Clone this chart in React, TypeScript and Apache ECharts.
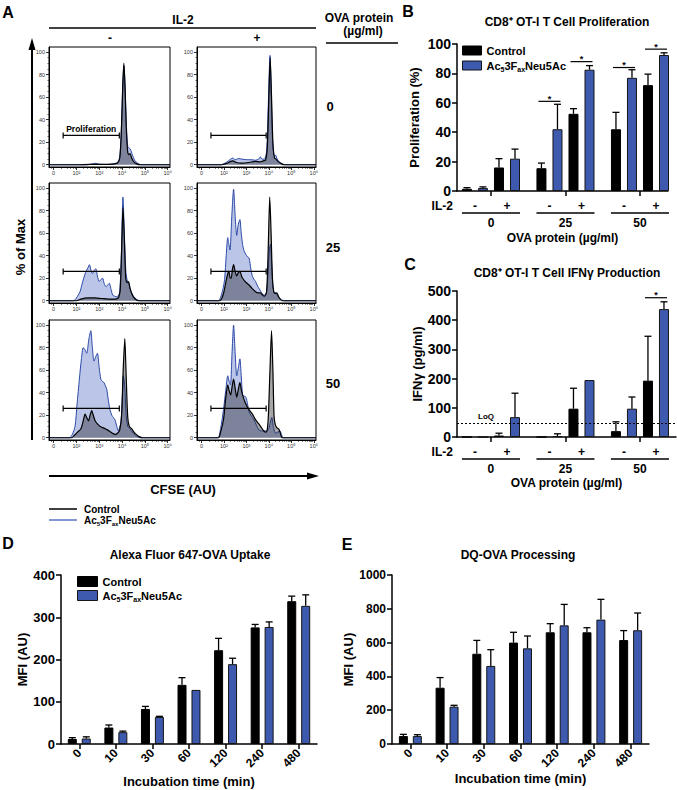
import React, { useEffect, useRef } from 'react';
import * as echarts from 'echarts';

const FONT = '"Liberation Sans", Arial, Helvetica, sans-serif';
const BLUE = '#3d5aae';
const CONTROL = 'Control';
const AC = 'Ac53FaxNeu5Ac';
const AC_RICH = '{a|Ac}{s|5}{a|3F}{s|ax}{a|Neu5Ac}';

// ---------- Panel A (CFSE histograms) ----------
const cfseTickLabels = ['0', '10²', '10³', '10⁴', '10⁵', '10⁶'];
const cfseTicks = [0, 1, 2, 3, 4, 5];
const pctTicks = [0, 20, 40, 60, 80, 100];
const pctMinor = [5, 10, 15, 25, 30, 35, 45, 50, 55, 65, 70, 75, 85, 90, 95];
const ovaRowLabels = ['0', '25', '50'];
const il2ColLabels = ['-', '+'];
const gateFrom = 0.42;
const gateTo = 2.88;
const gateLevel = 26;

// OVA 0, IL-2 -
const histCtrl0Minus = [[-0.2,0],[1.0,0],[1.6,0.3],[2.2,0.3],[2.6,0.6],[2.8,1.5],[2.9,6],[2.97,30],[3.03,70],[3.08,90],[3.13,70],[3.19,30],[3.25,11],[3.3,9],[3.35,10],[3.42,6],[3.5,3],[3.62,1],[3.8,0],[5.1,0]];
const histAc0Minus = [[-0.2,0],[1.5,0],[1.7,0.8],[1.85,1.3],[2.0,0.5],[2.3,0.3],[2.6,0.8],[2.8,2],[2.9,7],[2.97,32],[3.03,70],[3.08,88],[3.13,70],[3.19,35],[3.25,16],[3.3,15],[3.36,14],[3.45,9],[3.55,4],[3.7,1],[3.85,0],[5.1,0]];
// OVA 0, IL-2 +
const histCtrl0Plus = [[-0.2,0],[0.9,0],[1.1,1],[1.3,3],[1.4,3.5],[1.55,2],[1.8,1.5],[2.1,2],[2.4,3],[2.6,2.5],[2.75,3.5],[2.85,4],[2.93,15],[3.0,60],[3.06,95],[3.12,60],[3.18,20],[3.25,6],[3.32,5],[3.4,3],[3.55,1],[3.7,0],[5.1,0]];
const histAc0Plus = [[-0.2,0],[0.85,0],[1.1,2],[1.3,5],[1.4,6],[1.5,4.5],[1.65,5.5],[1.8,5],[2.0,4.5],[2.2,4.5],[2.4,4],[2.55,5],[2.62,7],[2.7,5],[2.8,5],[2.9,12],[2.97,50],[3.05,97],[3.11,60],[3.17,20],[3.24,8],[3.3,8.5],[3.37,5],[3.5,2],[3.7,0],[5.1,0]];
// OVA 25, IL-2 -
const histCtrl25Minus = [[-0.2,0],[1.0,0],[1.2,1.5],[1.5,2.5],[1.8,2.5],[2.1,2],[2.4,1.5],[2.7,1.5],[2.85,3],[2.92,10],[2.98,45],[3.04,83],[3.1,55],[3.16,20],[3.22,16],[3.28,17],[3.35,11],[3.45,5],[3.55,2],[3.7,0],[5.1,0]];
const histAc25Minus = [[-0.2,0],[0.85,0],[0.95,1],[1.05,4],[1.16,8],[1.25,15],[1.4,25],[1.5,29],[1.57,32],[1.64,27],[1.7,24],[1.78,27],[1.85,28.5],[1.92,22],[2.0,17],[2.08,19],[2.15,20],[2.22,15],[2.3,12.5],[2.37,14],[2.44,15.5],[2.52,10],[2.59,5],[2.68,4],[2.77,3.6],[2.85,5],[2.9,8],[2.97,40],[3.04,92],[3.1,60],[3.17,25],[3.24,17],[3.3,15],[3.38,9],[3.5,4],[3.65,1],[3.8,0],[5.1,0]];
// OVA 25, IL-2 +
const histCtrl25Plus = [[-0.2,0],[0.8,0],[0.9,2],[1.0,8],[1.1,18],[1.17,24],[1.22,26],[1.28,20],[1.32,20],[1.38,28],[1.43,32],[1.5,26],[1.57,22],[1.64,25],[1.71,26],[1.8,21],[1.9,18],[2.0,16],[2.12,14],[2.25,11],[2.41,8],[2.52,7],[2.63,7],[2.72,5],[2.8,4],[2.9,8],[2.97,45],[3.04,92],[3.1,60],[3.16,20],[3.22,8],[3.28,6.5],[3.35,7],[3.45,3],[3.6,0],[5.1,0]];
const histAc25Plus = [[-0.2,0],[0.75,0],[0.85,3],[0.95,10],[1.03,19],[1.1,40],[1.17,56],[1.22,50],[1.27,45],[1.35,75],[1.43,99],[1.5,75],[1.57,58],[1.64,68],[1.71,72],[1.77,60],[1.83,50],[1.9,44],[1.98,41],[2.05,39],[2.12,38],[2.2,28],[2.27,21.5],[2.34,19],[2.41,17],[2.5,13],[2.56,11],[2.65,8],[2.78,5],[2.88,6],[2.95,20],[3.02,45],[3.07,50],[3.12,35],[3.18,12],[3.25,7],[3.3,7],[3.4,4],[3.55,1],[3.7,0],[5.1,0]];
// OVA 50, IL-2 -
const histCtrl50Minus = [[-0.2,0],[0.8,0],[0.9,2],[1.05,5],[1.2,8],[1.3,15],[1.38,21],[1.45,18],[1.53,15],[1.6,20],[1.67,24],[1.74,20],[1.82,15],[1.93,12],[2.04,10],[2.15,9],[2.26,8],[2.36,7],[2.47,5.5],[2.58,4],[2.69,3],[2.8,4],[2.9,7],[2.98,20],[3.05,60],[3.12,88],[3.18,55],[3.25,18],[3.32,10],[3.42,8],[3.52,5],[3.62,3],[3.75,1],[3.9,0],[5.1,0]];
const histAc50Minus = [[-0.2,0],[0.7,0],[0.82,3],[0.94,10],[1.03,30],[1.13,52],[1.22,70],[1.3,80],[1.38,78],[1.45,75],[1.55,88],[1.63,95],[1.7,80],[1.77,68],[1.85,72],[1.92,75],[2.0,62],[2.07,52],[2.14,50],[2.21,49],[2.27,46],[2.33,43],[2.4,33],[2.47,25],[2.55,20],[2.62,18],[2.69,16],[2.77,10],[2.84,6],[2.9,10],[2.95,13],[3.0,30],[3.06,55],[3.12,45],[3.18,20],[3.25,10],[3.35,8],[3.45,5],[3.6,2],[3.8,0],[5.1,0]];
// OVA 50, IL-2 +
const histCtrl50Plus = [[-0.2,0],[0.75,0],[0.85,5],[0.98,16],[1.08,35],[1.17,47],[1.23,42],[1.3,38],[1.36,45],[1.43,52],[1.5,44],[1.57,36],[1.64,43],[1.71,49],[1.78,42],[1.86,36],[1.95,31],[2.05,27],[2.15,24],[2.27,21],[2.38,17],[2.48,14],[2.6,11],[2.7,8],[2.78,6],[2.85,5],[2.92,6],[2.98,20],[3.05,60],[3.12,95],[3.18,60],[3.23,20],[3.28,12],[3.35,9],[3.43,8],[3.5,5],[3.6,0],[5.1,0]];
const histAc50Plus = [[-0.2,0],[0.72,0],[0.85,8],[0.98,25],[1.08,42],[1.17,55],[1.23,50],[1.29,47],[1.36,75],[1.43,100],[1.5,75],[1.57,55],[1.64,62],[1.71,70],[1.77,55],[1.83,38],[1.9,37],[1.98,36],[2.05,30],[2.12,23],[2.2,20],[2.34,16],[2.45,11],[2.56,7],[2.68,6],[2.78,6],[2.88,6],[2.93,7],[3.0,8],[3.07,14],[3.13,18],[3.2,10],[3.3,4],[3.4,5],[3.5,6],[3.56,3],[3.65,0],[5.1,0]];

// ---------- Panel B (proliferation) ----------
const ovaGroups = ['0', '25', '50'];
const il2Levels = ['-', '+'];
const profControl = [1.5, 16, 15.5, 52.5, 42, 72];
const profControlErr = [0.8, 6, 3.5, 3.5, 11.5, 7.5];
const profAc = [2, 22, 42, 82.5, 77, 92.5];
const profAcErr = [0.8, 6.5, 17, 2.8, 5.5, 1.5];
const profSigCond = [2, 3, 4, 5];
const profSigY = [61, 88, 84, 96.5];

// ---------- Panel C (IFN-gamma) ----------
const ifnControl = [0, 5, 0, 97, 20, 193];
const ifnControlErr = [0, 8, 0, 70, 32, 152];
const ifnAc = [0, 68, 3, 195, 97, 438];
const ifnAcErr = [0, 82, 8, 0, 40, 25];
const ifnSigCond = [5];
const ifnSigY = [477];
const ifnLoQ = 47;

// ---------- Panels D, E ----------
const times = ['0', '10', '30', '60', '120', '240', '480'];
const uptakeControl = [12, 39, 83, 140, 222, 276, 338];
const uptakeControlErr = [3, 6, 6, 17, 28, 7, 12];
const uptakeAc = [13, 28, 64, 128, 189, 277, 327];
const uptakeAcErr = [4, 2.5, 1.5, 0, 14, 12, 26];
const procControl = [47, 333, 534, 600, 661, 661, 615];
const procControlErr = [10, 60, 79, 61, 51, 27, 56];
const procAc = [47, 221, 462, 566, 702, 736, 673];
const procAcErr = [8, 8, 96, 73, 124, 120, 102];

// layout helpers
const SLOT = [-0.3225, -0.1075, 0.1075, 0.3225];
const condPos = (cond: number, s: number) => Math.floor(cond / 2) + SLOT[(cond % 2) * 2 + s];

const cfseMinor: number[] = [-0.1, 0.35, 0.6, 0.75, 0.86, 0.94];
for (let k = 1; k <= 4; k++) for (let m = 2; m <= 9; m++) cfseMinor.push(k + Math.log10(m));

const richLeg = (size: number) => ({
  a: { fontSize: size, fontWeight: 'bold', fontFamily: FONT, color: '#000', lineHeight: size + 3 },
  s: { fontSize: Math.round(size * 0.62), fontWeight: 'bold', fontFamily: FONT, color: '#000', lineHeight: Math.round(size * 0.62), verticalAlign: 'bottom' },
});

const T = (x: number, y: number, text: string, size: number, align = 'center', extra: any = {}) => ({
  type: 'text', x, y, silent: true,
  style: { text, font: `bold ${size}px ${FONT}`, fill: '#000', align, verticalAlign: 'middle', textAlign: align, textVerticalAlign: 'middle', ...extra },
});
const L = (x1: number, y1: number, x2: number, y2: number, w = 1.3, color = '#000') => ({
  type: 'line', silent: true, shape: { x1, y1, x2, y2 }, style: { stroke: color, lineWidth: w },
});

function buildOption() {
  const histCols = [{ left: 49, width: 121 }, { left: 197, width: 119 }];
  const histRows = [47, 183, 320];
  const histPanels = [
    { ctrl: histCtrl0Minus, ac: histAc0Minus },
    { ctrl: histCtrl0Plus, ac: histAc0Plus },
    { ctrl: histCtrl25Minus, ac: histAc25Minus },
    { ctrl: histCtrl25Plus, ac: histAc25Plus },
    { ctrl: histCtrl50Minus, ac: histAc50Minus },
    { ctrl: histCtrl50Plus, ac: histAc50Plus },
  ];

  const grid: any[] = [];
  const xAxis: any[] = [];
  const yAxis: any[] = [];
  const series: any[] = [];

  histPanels.forEach((_, i) => {
    const col = histCols[i % 2];
    grid.push({ left: col.left, top: histRows[Math.floor(i / 2)], width: col.width, height: 120, show: true, borderColor: '#000', borderWidth: 1, containLabel: false });
    xAxis.push({
      type: 'value', gridIndex: i, min: -0.2, max: 5.1, position: 'bottom',
      axisLine: { show: true, onZero: false, lineStyle: { color: '#000', width: 1 } },
      axisTick: { show: true, customValues: cfseTicks, length: 3, lineStyle: { color: '#000', width: 0.8 } },
      axisLabel: { show: true, customValues: cfseTicks, formatter: (v: number) => cfseTickLabels[Math.round(v)], fontSize: 5.5, color: '#333', margin: 3, fontFamily: FONT },
      splitLine: { show: false },
    });
    xAxis.push({
      type: 'value', gridIndex: i, min: -0.2, max: 5.1, position: 'bottom',
      axisLine: { show: false, onZero: false },
      axisTick: { show: true, customValues: cfseMinor, length: 1.8, lineStyle: { color: '#000', width: 0.6 } },
      axisLabel: { show: false }, splitLine: { show: false },
    });
    yAxis.push({
      type: 'value', gridIndex: i, min: -2, max: 104.5, position: 'left',
      axisLine: { show: true, onZero: false, lineStyle: { color: '#000', width: 1 } },
      axisTick: { show: true, customValues: pctTicks, length: 3, lineStyle: { color: '#000', width: 0.8 } },
      axisLabel: { show: true, customValues: pctTicks, fontSize: 5.5, color: '#333', margin: 4, fontFamily: FONT },
      splitLine: { show: false },
    });
    yAxis.push({
      type: 'value', gridIndex: i, min: -2, max: 104.5, position: 'left',
      axisLine: { show: false, onZero: false },
      axisTick: { show: true, customValues: pctMinor, length: 1.6, lineStyle: { color: '#000', width: 0.5 } },
      axisLabel: { show: false }, splitLine: { show: false },
    });
  });

  // B, C, D, E grids
  grid.push({ left: 457, top: 44, width: 211, height: 147 });   // 6
  grid.push({ left: 457, top: 291, width: 219, height: 146 });  // 7
  grid.push({ left: 61, top: 575, width: 256, height: 169 });   // 8
  grid.push({ left: 392, top: 575, width: 257, height: 169 });  // 9

  const axLine = { show: true, onZero: false, lineStyle: { color: '#000', width: 1.5 } };
  const axTick = { show: true, length: 5, lineStyle: { color: '#000', width: 1.5 } };
  const lblStyle = (size: number) => ({ fontSize: size, fontWeight: 'bold', color: '#000', fontFamily: FONT });

  const ovaX = (gi: number, max: number, nameGap: number) => ({
    type: 'value', gridIndex: gi, min: -0.456, max, position: 'bottom',
    axisLine: axLine, axisTick: { ...axTick, customValues: [0, 1, 2] }, axisLabel: { show: false }, splitLine: { show: false },
    name: 'OVA protein (µg/ml)', nameLocation: 'middle', nameGap, nameTextStyle: lblStyle(12),
  });
  xAxis.push(ovaX(6, 2.376, 41)); // 12
  xAxis.push(ovaX(7, 2.484, 40)); // 13
  const timeX = (gi: number, nameGap: number) => ({
    type: 'category', gridIndex: gi, data: times, position: 'bottom',
    axisLine: axLine, axisTick: { ...axTick, alignWithLabel: true }, axisLabel: { ...lblStyle(12), rotate: 45, margin: 7, interval: 0 },
    name: 'Incubation time (min)', nameLocation: 'middle', nameGap, nameTextStyle: lblStyle(13),
  });
  xAxis.push(timeX(8, 31)); // 14
  xAxis.push(timeX(9, 27)); // 15

  const stdY = (gi: number, max: number, interval: number, name: string, nameGap: number, size: number) => ({
    type: 'value', gridIndex: gi, min: 0, max, interval, position: 'left',
    axisLine: axLine, axisTick: axTick, axisLabel: { ...lblStyle(size), margin: 6, formatter: (v: number) => String(v) }, splitLine: { show: false },
    name, nameLocation: 'middle', nameGap, nameTextStyle: lblStyle(13),
  });
  yAxis.push(stdY(6, 100, 20, 'Proliferation (%)', 36, 14)); // 12
  yAxis.push(stdY(7, 500, 100, 'IFNγ (pg/ml)', 28, 14)); // 13
  yAxis.push(stdY(8, 400, 100, 'MFI (AU)', 25, 13)); // 14
  yAxis.push(stdY(9, 1000, 200, 'MFI (AU)', 25, 12)); // 15

  const ctrlStyle = { color: '#000', borderColor: '#000', borderWidth: 1 };
  const acStyle = { color: BLUE, borderColor: '#151515', borderWidth: 1 };

  const errSeries = (ax: number, data: number[][], dx: number, cap: number) => ({
    type: 'custom', name: 'err', xAxisIndex: ax, yAxisIndex: ax, data, z: 5, silent: true,
    encode: { x: 0, y: 1 },
    renderItem: (_p: any, api: any) => {
      const x = api.value(0), top = api.value(1), e = api.value(2);
      if (!e) return { type: 'group', children: [] };
      const p0 = api.coord([x, top]);
      const p1 = api.coord([x, top + e]);
      const cx = p0[0] + dx;
      return {
        type: 'group', children: [
          { type: 'line', shape: { x1: cx, y1: p0[1], x2: cx, y2: p1[1] }, style: { stroke: '#000', lineWidth: 1.3 } },
          { type: 'line', shape: { x1: cx - cap, y1: p1[1], x2: cx + cap, y2: p1[1] }, style: { stroke: '#000', lineWidth: 1.3 } },
        ],
      };
    },
  });

  const sigSeries = (ax: number, conds: number[], ys: number[]) => ({
    type: 'custom', name: 'sig', xAxisIndex: ax, yAxisIndex: ax, silent: true, z: 6,
    data: conds.map((c, k) => [condPos(c, 0), condPos(c, 1), ys[k]]),
    encode: { x: [0, 1], y: 2 },
    renderItem: (_p: any, api: any) => {
      const a = api.coord([api.value(0), api.value(2)]);
      const b = api.coord([api.value(1), api.value(2)]);
      return {
        type: 'group', children: [
          { type: 'line', shape: { x1: a[0] - 3, y1: a[1], x2: b[0] + 3, y2: b[1] }, style: { stroke: '#000', lineWidth: 1.2 } },
          { type: 'text', x: (a[0] + b[0]) / 2, y: a[1] + 2, style: { text: '*', font: `bold 9px ${FONT}`, fill: '#000', align: 'center', verticalAlign: 'bottom' } },
        ],
      };
    },
  });

  const groupLabelSeries = (ax: number) => ({
    type: 'custom', name: 'grp', xAxisIndex: ax, yAxisIndex: ax, silent: true,
    data: ovaGroups.map((_, i) => [i, 0]),
    encode: { x: 0, y: 1 },
    renderItem: (p: any, api: any) => {
      const g = api.value(0);
      const idx = p.dataIndex;
      const base = api.coord([g, 0]);
      const xm = api.coord([g - 0.215, 0])[0];
      const xp = api.coord([g + 0.215, 0])[0];
      const xl = api.coord([g + SLOT[0], 0])[0] - 5;
      const xr = api.coord([g + SLOT[3], 0])[0] + 5;
      const st = (text: string, align = 'center') => ({ text, font: `bold 12px ${FONT}`, fill: '#000', align, verticalAlign: 'middle' });
      const children: any[] = [
        { type: 'text', x: xm, y: base[1] + 15, style: st(il2Levels[0]) },
        { type: 'text', x: xp, y: base[1] + 15, style: st(il2Levels[1]) },
        { type: 'line', shape: { x1: xl, y1: base[1] + 22, x2: xr, y2: base[1] + 22 }, style: { stroke: '#000', lineWidth: 1.3 } },
        { type: 'text', x: base[0], y: base[1] + 32, style: st(ovaGroups[idx]) },
      ];
      if (idx === 0) children.push({ type: 'text', x: xl - 9, y: base[1] + 15, style: st('IL-2', 'right') });
      return { type: 'group', children };
    },
  });

  // ---- B ----
  series.push({ type: 'bar', name: CONTROL, xAxisIndex: 12, yAxisIndex: 12, barWidth: 10, barGap: '-100%', itemStyle: ctrlStyle, data: profControl.map((v, i) => [condPos(i, 0), v]) });
  series.push({ type: 'bar', name: AC, xAxisIndex: 12, yAxisIndex: 12, barWidth: 10, barGap: '-100%', itemStyle: acStyle, data: profAc.map((v, i) => [condPos(i, 1), v]) });
  series.push(errSeries(12, profControl.map((v, i) => [condPos(i, 0), v, profControlErr[i]]), 0, 3.5));
  series.push(errSeries(12, profAc.map((v, i) => [condPos(i, 1), v, profAcErr[i]]), 0, 3.5));
  series.push(sigSeries(12, profSigCond, profSigY));
  series.push(groupLabelSeries(12));

  // ---- C ----
  series.push({
    type: 'bar', name: CONTROL, xAxisIndex: 13, yAxisIndex: 13, barWidth: 10, barGap: '-100%', itemStyle: ctrlStyle,
    data: ifnControl.map((v, i) => [condPos(i, 0), v]),
    markLine: { silent: true, symbol: 'none', data: [{ yAxis: ifnLoQ }], lineStyle: { color: '#000', type: [2, 2], width: 1 }, label: { show: false } },
  });
  series.push({ type: 'bar', name: AC, xAxisIndex: 13, yAxisIndex: 13, barWidth: 10, barGap: '-100%', itemStyle: acStyle, data: ifnAc.map((v, i) => [condPos(i, 1), v]) });
  series.push(errSeries(13, ifnControl.map((v, i) => [condPos(i, 0), v, ifnControlErr[i]]), 0, 3.5));
  series.push(errSeries(13, ifnAc.map((v, i) => [condPos(i, 1), v, ifnAcErr[i]]), 0, 3.5));
  series.push(sigSeries(13, ifnSigCond, ifnSigY));
  series.push(groupLabelSeries(13));

  // ---- D ----
  series.push({ type: 'bar', name: CONTROL, xAxisIndex: 14, yAxisIndex: 14, barWidth: 9, barGap: '55%', itemStyle: ctrlStyle, data: uptakeControl });
  series.push({ type: 'bar', name: AC, xAxisIndex: 14, yAxisIndex: 14, barWidth: 9, barGap: '55%', itemStyle: acStyle, data: uptakeAc });
  series.push(errSeries(14, uptakeControl.map((v, i) => [i, v, uptakeControlErr[i]]), -7, 3.5));
  series.push(errSeries(14, uptakeAc.map((v, i) => [i, v, uptakeAcErr[i]]), 7, 3.5));

  // ---- E ----
  series.push({ type: 'bar', name: CONTROL, xAxisIndex: 15, yAxisIndex: 15, barWidth: 9, barGap: '55%', itemStyle: ctrlStyle, data: procControl });
  series.push({ type: 'bar', name: AC, xAxisIndex: 15, yAxisIndex: 15, barWidth: 9, barGap: '55%', itemStyle: acStyle, data: procAc });
  series.push(errSeries(15, procControl.map((v, i) => [i, v, procControlErr[i]]), -7, 3.5));
  series.push(errSeries(15, procAc.map((v, i) => [i, v, procAcErr[i]]), 7, 3.5));

  // ---- A histograms ----
  histPanels.forEach((hp, i) => {
    series.push({
      type: 'line', name: AC, xAxisIndex: 2 * i, yAxisIndex: 2 * i, data: hp.ac, symbol: 'none', showSymbol: false, smooth: 0.25, z: 2,
      lineStyle: { color: '#2c4aa8', width: 1 }, areaStyle: { color: 'rgba(60,90,185,0.5)' },
    });
    series.push({
      type: 'line', name: CONTROL, xAxisIndex: 2 * i, yAxisIndex: 2 * i, data: hp.ctrl, symbol: 'none', showSymbol: false, smooth: 0.25, z: 3,
      lineStyle: { color: '#000', width: 1.2 }, areaStyle: { color: 'rgba(25,25,30,0.55)' },
    });
    series.push({
      type: 'custom', name: 'gate', xAxisIndex: 2 * i, yAxisIndex: 2 * i, silent: true, z: 10,
      data: [[gateFrom, gateTo, gateLevel]], encode: { x: [0, 1], y: 2 },
      renderItem: (_p: any, api: any) => {
        const a = api.coord([api.value(0), api.value(2)]);
        const b = api.coord([api.value(1), api.value(2)]);
        const children: any[] = [
          { type: 'line', shape: { x1: a[0], y1: a[1], x2: b[0], y2: b[1] }, style: { stroke: '#000', lineWidth: 1.2 } },
          { type: 'line', shape: { x1: a[0], y1: a[1] - 3, x2: a[0], y2: a[1] + 3 }, style: { stroke: '#000', lineWidth: 1.2 } },
          { type: 'line', shape: { x1: b[0], y1: b[1] - 3, x2: b[0], y2: b[1] + 3 }, style: { stroke: '#000', lineWidth: 1.2 } },
        ];
        if (i === 0) children.push({ type: 'text', x: (a[0] + b[0]) / 2, y: a[1] - 2, style: { text: 'Proliferation', font: `bold 8.5px ${FONT}`, fill: '#000', align: 'center', verticalAlign: 'bottom' } });
        return { type: 'group', children };
      },
    });
  });

  const legendBase = {
    show: true, orient: 'vertical', icon: 'rect', selectedMode: false, padding: 0,
    formatter: (n: string) => (n === AC ? AC_RICH : `{a|${n}}`),
    data: [
      { name: CONTROL, itemStyle: { color: '#000', borderColor: '#000', borderWidth: 1 } },
      { name: AC, itemStyle: { color: BLUE, borderColor: '#151515', borderWidth: 1 } },
    ],
  };
  const legend = [
    { ...legendBase, left: 462, top: 45, itemWidth: 19, itemHeight: 9, itemGap: 4, textStyle: { rich: richLeg(11) } },
    { ...legendBase, left: 77, top: 576, itemWidth: 20, itemHeight: 10, itemGap: 3, textStyle: { rich: richLeg(11) } },
  ];

  const graphics: any[] = [
    T(8, 12, 'A', 16),
    T(183, 20, 'IL-2', 12),
    L(49, 28, 316, 28, 1.5),
    T(110, 38, il2ColLabels[0], 12),
    T(257, 38, il2ColLabels[1], 12),
    T(359, 18, 'OVA protein', 12),
    T(363, 31, '(µg/ml)', 12),
    L(326, 43, 398, 43, 1.5),
    T(330, 106, ovaRowLabels[0], 13),
    T(333, 247, ovaRowLabels[1], 13),
    T(333, 383, ovaRowLabels[2], 13),
    { ...T(20, 247, '% of Max', 13), rotation: Math.PI / 2 },
    L(32, 440, 32, 46, 2),
    { type: 'polygon', silent: true, shape: { points: [[32, 38], [28.5, 50], [35.5, 50]] }, style: { fill: '#000' } },
    L(49, 476, 310, 476, 2),
    { type: 'polygon', silent: true, shape: { points: [[319, 476], [307, 472.5], [307, 479.5]] }, style: { fill: '#000' } },
    T(183, 489, 'CFSE (AU)', 13),
    L(49, 509, 77, 509, 1.5, '#000'),
    T(84, 509, 'Control', 10, 'left'),
    L(49, 520, 77, 520, 1.5, '#5a73c5'),
    { type: 'text', x: 84, y: 520, silent: true, style: { text: AC_RICH, rich: richLeg(10), font: `bold 10px ${FONT}`, fill: '#000', align: 'left', verticalAlign: 'middle', textAlign: 'left', textVerticalAlign: 'middle' } },
    T(408, 11, 'B', 16),
    T(567, 22, 'CD8⁺ OT-I T Cell Proliferation', 12),
    T(410, 264, 'C', 16),
    T(567, 273, 'CD8⁺ OT-I T Cell IFNγ Production', 12),
    T(486, 416, 'LoQ', 8),
    T(8, 543, 'D', 16),
    T(190, 555, 'Alexa Fluor 647-OVA Uptake', 12),
    T(347, 544, 'E', 16),
    T(518, 555, 'DQ-OVA Processing', 12),
  ];

  return {
    animation: false,
    backgroundColor: '#fff',
    textStyle: { fontFamily: FONT },
    grid, xAxis, yAxis, legend, series,
    graphic: { elements: graphics },
  };
}

export default function App() {
  const ref = useRef<HTMLDivElement>(null);
  useEffect(() => {
    if (!ref.current) return;
    const chart = echarts.init(ref.current, null, { renderer: 'svg', width: 677, height: 790 });
    chart.setOption(buildOption() as any);
    return () => chart.dispose();
  }, []);
  return <div ref={ref} style={{ position: 'absolute', left: 0, top: 0, width: 677, height: 790, background: '#fff' }} />;
}
